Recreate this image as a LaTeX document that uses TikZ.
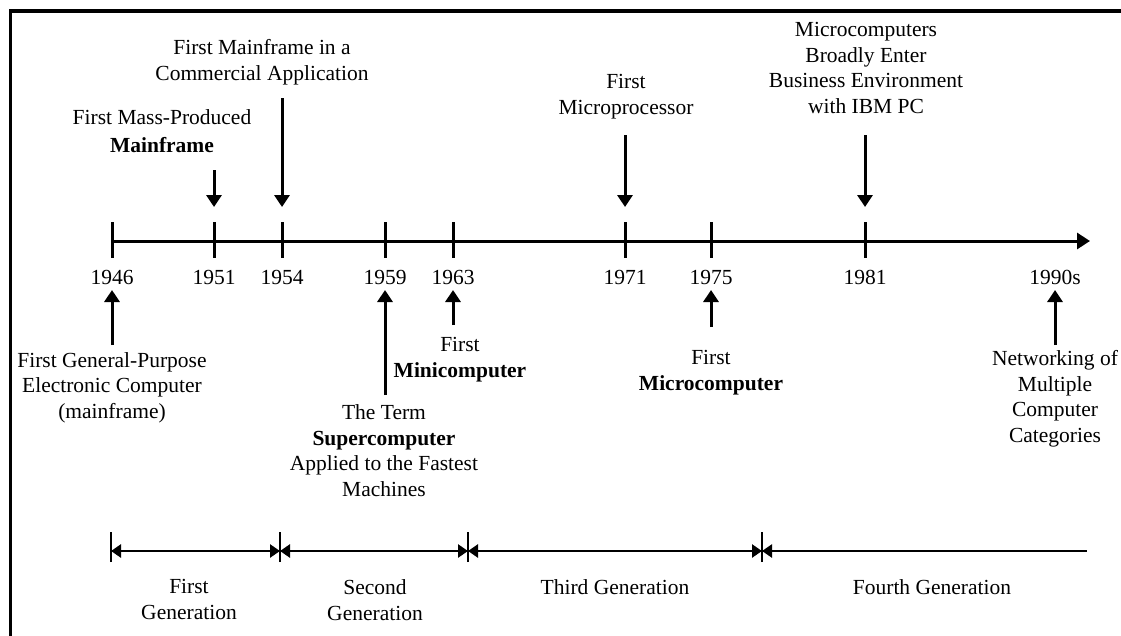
\documentclass[tikz,border=0pt]{standalone}
\usepackage{fontspec}
\setmainfont{Liberation Serif}
\usetikzlibrary{arrows.meta}
\begin{document}
\begin{tikzpicture}[x=1pt,y=-1pt,
  every node/.style={font=\fontsize{21.5}{25.5}\selectfont, inner sep=0pt, align=center},
  lbl/.style={anchor=north},
  yr/.style={anchor=base},
  evarrow/.style={line width=3pt, -{Triangle[width=15pt,length=12pt]}},
  axisline/.style={line width=3pt, -{Triangle[width=16pt,length=13pt]}},
  tickline/.style={line width=3pt},
  gentick/.style={line width=2.8pt},
  genline/.style={line width=2.6pt},
  gentip/.tip={Triangle[width=13pt,length=10pt]},
  genarrow/.style={line width=2.6pt, gentip-gentip},
]
\useasboundingbox (0,0) rectangle (1121,635);
% frame (only top and left edges are visible)
\coordinate (fb) at (10.5,640);
\coordinate (fc) at (10.5,11);
\coordinate (fr) at (1130,11);
\draw[line width=3.2pt] (fb) -- (fc) -- (fr);

% main axis
\coordinate (axL) at (112,241);
\coordinate (axR) at (1090,241);
\draw[axisline] (axL) -- (axR);

% ticks and years
\foreach \x/\yr in {112/1946, 214/1951, 282/1954, 385/1959, 453/1963, 625/1971, 711/1975, 865/1981} {
  \coordinate (tt\yr) at (\x,222);
  \coordinate (tb\yr) at (\x,258);
  \draw[tickline] (tt\yr) -- (tb\yr);
  \node[yr] (y\yr) at (\x,284) {\yr};
}
\node[yr] (y1990) at (1055,284) {1990s};

% events above the axis
\node[lbl] (cm54) at (262,39.5) {First Mainframe in a\\Commercial Application};
\node[lbl] (mp51) at (162,109.5) {First Mass-Produced\\[2.5pt]\textbf{Mainframe}};
\node[lbl] (mp71) at (626,74.5) {First\\Microprocessor};
\node[lbl] (mic81) at (866,22.5) {Microcomputers\\Broadly Enter\\Business Environment\\with IBM PC};

\coordinate (d51a) at (214,170);  \coordinate (d51b) at (214,207);
\coordinate (d54a) at (282,98);   \coordinate (d54b) at (282,207);
\coordinate (d71a) at (625,135);  \coordinate (d71b) at (625,207);
\coordinate (d81a) at (865,135);  \coordinate (d81b) at (865,207);
\draw[evarrow] (d51a) -- (d51b);
\draw[evarrow] (d54a) -- (d54b);
\draw[evarrow] (d71a) -- (d71b);
\draw[evarrow] (d81a) -- (d81b);

% events below the axis
\node[lbl] (gp46) at (112,352) {First General-Purpose\\Electronic Computer\\(mainframe)};
\node[lbl] (sc59) at (384,404.5) {The Term\\\textbf{Supercomputer}\\Applied to the Fastest\\Machines};
\node[lbl] (mn63) at (460,337.5) {First\\\textbf{Minicomputer}};
\node[lbl] (mc75) at (711,350.5) {First\\\textbf{Microcomputer}};
\node[lbl] (nw90) at (1055,350.5) {Networking of\\Multiple\\Computer\\Categories};

\coordinate (u46a) at (112,345);  \coordinate (u46b) at (112,290);
\coordinate (u59a) at (385,395);  \coordinate (u59b) at (385,290);
\coordinate (u63a) at (453,325);  \coordinate (u63b) at (453,290);
\coordinate (u75a) at (711,327);  \coordinate (u75b) at (711,290);
\coordinate (u90a) at (1055,345); \coordinate (u90b) at (1055,290);
\draw[evarrow] (u46a) -- (u46b);
\draw[evarrow] (u59a) -- (u59b);
\draw[evarrow] (u63a) -- (u63b);
\draw[evarrow] (u75a) -- (u75b);
\draw[evarrow] (u90a) -- (u90b);

% generations bar
\coordinate (gb0) at (111,551);
\coordinate (gb1) at (280,551);
\coordinate (gb2) at (468,551);
\coordinate (gb3) at (762,551);
\coordinate (gb4) at (1087,551);
\foreach \g in {0,1,2,3} {
  \draw[gentick] ([yshift=-11pt]gb\g) -- ([yshift=19pt]gb\g);
}
\draw[genarrow] (gb0) -- (gb1);
\draw[genarrow] (gb1) -- (gb2);
\draw[genarrow] (gb2) -- (gb3);
\draw[genline, gentip-] (gb3) -- (gb4);

\node[lbl] (g1) at (189,579.5) {First\\Generation};
\node[lbl] (g2) at (375,579.5) {Second\\Generation};
\node[lbl] (g3) at (615,579.5) {Third Generation};
\node[lbl] (g4) at (932,579.5) {Fourth Generation};
\end{tikzpicture}
\end{document}
